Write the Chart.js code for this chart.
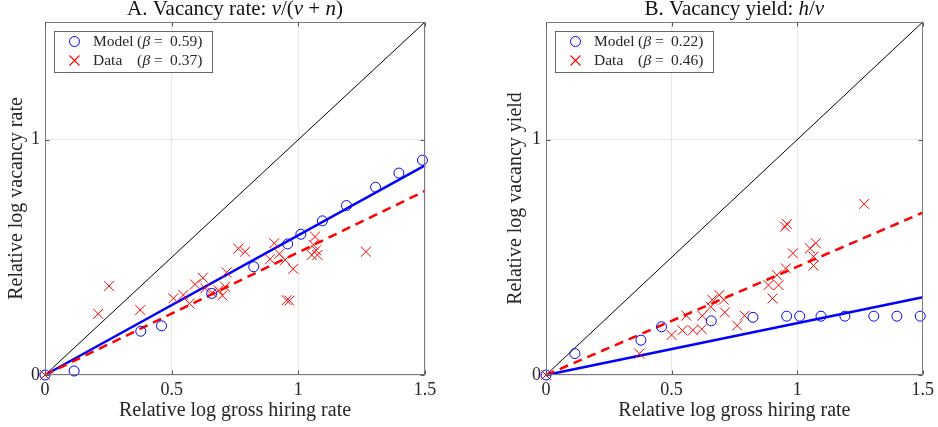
<!DOCTYPE html>
<html><head><meta charset="utf-8">
<script src="https://cdn.jsdelivr.net/npm/chart.js@4.4.1/dist/chart.umd.min.js"></script>
<style>
html,body{margin:0;padding:0;background:#fff;}
#wrap{position:relative;width:938px;height:427px;overflow:hidden;}
canvas{position:absolute;top:0;}
</style>
</head><body>
<div id="wrap">
<canvas id="cA" width="469" height="427" style="left:0"></canvas>
<canvas id="cB" width="469" height="427" style="left:469px"></canvas>
</div>
<script>
// ---- data ----
const xTicks = [0, 0.5, 1, 1.5];
const yTicks = [0, 1];
const seriesNames = ['Model', 'Data'];
const betaA = ['0.59', '0.37'];
const betaB = ['0.22', '0.46'];

const modelX = [0, 0.115, 0.378, 0.46, 0.658, 0.824, 0.958, 1.01, 1.095, 1.19, 1.305, 1.397, 1.49];
const modelA = [0, 0.017, 0.186, 0.209, 0.347, 0.46, 0.557, 0.598, 0.655, 0.72, 0.798, 0.858, 0.913];
const modelB = [0, 0.091, 0.148, 0.205, 0.23, 0.245, 0.25, 0.25, 0.25, 0.25, 0.25, 0.25, 0.25];

const dataAx = [0, 0.21, 0.253, 0.376, 0.507, 0.546, 0.57, 0.592, 0.623, 0.632, 0.66, 0.685, 0.70, 0.711, 0.717, 0.763, 0.79, 0.888, 0.905, 0.925, 0.948, 0.954, 0.965, 0.98, 1.053, 1.06, 1.066, 1.075, 1.07, 1.267];
const dataAy = [0, 0.26, 0.378, 0.276, 0.326, 0.34, 0.304, 0.385, 0.413, 0.368, 0.35, 0.36, 0.338, 0.375, 0.436, 0.537, 0.524, 0.492, 0.56, 0.515, 0.489, 0.318, 0.316, 0.451, 0.51, 0.553, 0.588, 0.51, 0.53, 0.524];

const dataBx = [0, 0.372, 0.50, 0.543, 0.559, 0.585, 0.62, 0.622, 0.656, 0.662, 0.69, 0.708, 0.712, 0.761, 0.791, 0.886, 0.902, 0.919, 0.926, 0.955, 0.952, 0.959, 0.983, 1.051, 1.074, 1.065, 1.065, 1.267];
const dataBy = [0, 0.091, 0.17, 0.19, 0.252, 0.19, 0.195, 0.252, 0.29, 0.32, 0.34, 0.32, 0.266, 0.21, 0.252, 0.382, 0.325, 0.425, 0.382, 0.453, 0.63, 0.642, 0.517, 0.538, 0.56, 0.503, 0.465, 0.727];

const lineX = [0, 1.5];
const diagY = [0, 1.5];
const modelFitA = [0, 0.891];
const dataFitA = [0, 0.782];
const modelFitB = [0, 0.33];
const dataFitB = [0, 0.69];

const titleA = [['A. Vacancy rate: ', 0], ['v', 1], ['/(', 0], ['v', 1], [' + ', 0], ['n', 1], [')', 0]];
const titleB = [['B. Vacancy yield: ', 0], ['h', 1], ['/', 0], ['v', 1]];
const yLabelA = 'Relative log vacancy rate';
const yLabelB = 'Relative log vacancy yield';
const xLabel = 'Relative log gross hiring rate';

// ---- helpers ----
const FAM = "'Liberation Serif', 'DejaVu Serif', serif";
const TXT = '#262626';
const pts = (xs, ys) => xs.map((x, i) => ({x: x, y: ys[i]}));

const decor = {
  id: 'decor',
  afterDraw(chart, args, o) {
    const ctx = chart.ctx;
    const {left, right, top, bottom} = chart.chartArea;
    const xs = chart.scales.x, ys = chart.scales.y;
    const L = Math.round(left) + 0.5, R = Math.round(right) - 0.5;
    const T = Math.round(top) + 0.5, B = Math.round(bottom) - 0.5;
    ctx.save();
    ctx.setLineDash([]);
    // axes box
    ctx.strokeStyle = '#7a7a7a';
    ctx.lineWidth = 1;
    ctx.strokeRect(L, T, R - L, B - T);
    // inward tick marks
    ctx.strokeStyle = '#555';
    ctx.beginPath();
    xTicks.forEach(v => {
      const p = Math.round(xs.getPixelForValue(v)) + 0.5;
      ctx.moveTo(p, B); ctx.lineTo(p, B - 4);
      ctx.moveTo(p, T); ctx.lineTo(p, T + 4);
    });
    yTicks.forEach(v => {
      const p = Math.round(ys.getPixelForValue(v)) + 0.5;
      ctx.moveTo(L, p); ctx.lineTo(L + 4, p);
      ctx.moveTo(R, p); ctx.lineTo(R - 4, p);
    });
    ctx.stroke();

    // title (mixed upright / italic)
    ctx.fillStyle = '#111';
    ctx.textBaseline = 'alphabetic';
    ctx.textAlign = 'left';
    const fN = '21px ' + FAM, fI = 'italic 21px ' + FAM;
    let w = 0;
    o.title.forEach(s => { ctx.font = s[1] ? fI : fN; w += ctx.measureText(s[0]).width; });
    let x = (left + right) / 2 - w / 2;
    o.title.forEach(s => { ctx.font = s[1] ? fI : fN; ctx.fillText(s[0], x, 15); x += ctx.measureText(s[0]).width; });

    // legend
    const bx = Math.round(left + 9) + 0.5, by = Math.round(top + 9) + 0.5;
    const bw = 158, bh = 41;
    ctx.fillStyle = '#fff';
    ctx.fillRect(bx, by, bw, bh);
    ctx.strokeStyle = '#666';
    ctx.lineWidth = 1;
    ctx.strokeRect(bx, by, bw, bh);
    const rows = [by + 10, by + 29];
    const mx = bx + 20, tx = bx + 38.5;
    // circle marker
    ctx.beginPath();
    ctx.arc(mx, rows[0], 5, 0, Math.PI * 2);
    ctx.strokeStyle = '#0000ff';
    ctx.lineWidth = 1;
    ctx.stroke();
    // cross marker
    ctx.beginPath();
    ctx.moveTo(mx - 5, rows[1] - 5); ctx.lineTo(mx + 5, rows[1] + 5);
    ctx.moveTo(mx - 5, rows[1] + 5); ctx.lineTo(mx + 5, rows[1] - 5);
    ctx.strokeStyle = '#ff0000';
    ctx.lineWidth = 1.1;
    ctx.stroke();
    ctx.fillStyle = TXT;
    ctx.textBaseline = 'middle';
    const lN = '15.5px ' + FAM, lI = 'italic 15.5px ' + FAM;
    seriesNames.forEach((nm, i) => {
      const y = rows[i];
      ctx.font = lN;
      ctx.fillText(nm, tx, y);
      ctx.fillText('(', tx + 44, y);
      ctx.font = lI;
      ctx.fillText('\u03B2', tx + 49.5, y);
      ctx.font = lN;
      ctx.fillText('=', tx + 61, y);
      ctx.fillText(o.beta[i] + ')', tx + 77, y);
    });
    ctx.restore();
  }
};

function makeChart(id, cfg) {
  const tickFont = {family: FAM, size: 18};
  const titleFont = {family: FAM, size: 20};
  return new Chart(document.getElementById(id), {
    type: 'scatter',
    data: {
      datasets: [
        {label: 'Model', data: pts(modelX, cfg.model), pointStyle: 'circle', pointRadius: 5, pointBorderWidth: 1,
         borderColor: '#0000ff', backgroundColor: 'rgba(0,0,0,0)', pointBackgroundColor: 'rgba(0,0,0,0)', showLine: false, order: 0, clip: false},
        {label: 'Data', data: pts(cfg.dx, cfg.dy), pointStyle: 'crossRot', pointRadius: 7, pointBorderWidth: 1,
         borderColor: '#ff0000', backgroundColor: '#ff0000', showLine: false, order: 0, clip: false},
        {label: 'Data fit', data: pts(lineX, cfg.dataFit), showLine: true, pointRadius: 0, borderColor: '#ff0000',
         borderWidth: 2.5, borderDash: [9, 6], order: 1, clip: false},
        {label: 'Model fit', data: pts(lineX, cfg.modelFit), showLine: true, pointRadius: 0, borderColor: '#0000ff',
         borderWidth: 2.5, order: 2, clip: false},
        {label: '45 degree', data: pts(lineX, diagY), showLine: true, pointRadius: 0, borderColor: '#000000',
         borderWidth: 1, order: 3, clip: false}
      ]
    },
    options: {
      responsive: false,
      animation: false,
      events: [],
      layout: {padding: cfg.pad},
      plugins: {
        legend: {display: false},
        tooltip: {enabled: false},
        title: {display: false},
        decor: {title: cfg.title, beta: cfg.beta}
      },
      scales: {
        x: {
          type: 'linear', min: 0, max: 1.5,
          afterBuildTicks: s => { s.ticks = xTicks.map(v => ({value: v})); },
          afterFit: s => { s.height = 52; },
          ticks: {callback: v => String(v), font: tickFont, color: TXT, padding: 4, maxRotation: 0, autoSkip: false},
          grid: {color: '#e8e8e8', drawTicks: false, lineWidth: 1},
          border: {display: false},
          title: {display: true, text: xLabel, font: titleFont, color: TXT, padding: {top: 4, bottom: 4}}
        },
        y: {
          type: 'linear', min: 0, max: 1.5,
          afterBuildTicks: s => { s.ticks = yTicks.map(v => ({value: v})); },
          afterFit: s => { s.width = cfg.yw; },
          ticks: {callback: v => String(v), font: tickFont, color: TXT, padding: 5, autoSkip: false},
          grid: {color: '#e8e8e8', drawTicks: false, lineWidth: 1},
          border: {display: false},
          title: {display: true, text: cfg.yLabel, font: titleFont, color: TXT, padding: {top: 4, bottom: 4}}
        }
      }
    },
    plugins: [decor]
  });
}

makeChart('cA', {model: modelA, dx: dataAx, dy: dataAy, modelFit: modelFitA, dataFit: dataFitA,
  title: titleA, beta: betaA, yLabel: yLabelA, yw: 44, pad: {left: 1, right: 44, top: 22, bottom: 0}});
makeChart('cB', {model: modelB, dx: dataBx, dy: dataBy, modelFit: modelFitB, dataFit: dataFitB,
  title: titleB, beta: betaB, yLabel: yLabelB, yw: 46, pad: {left: 31, right: 13, top: 22, bottom: 0}});
</script>
</body></html>
